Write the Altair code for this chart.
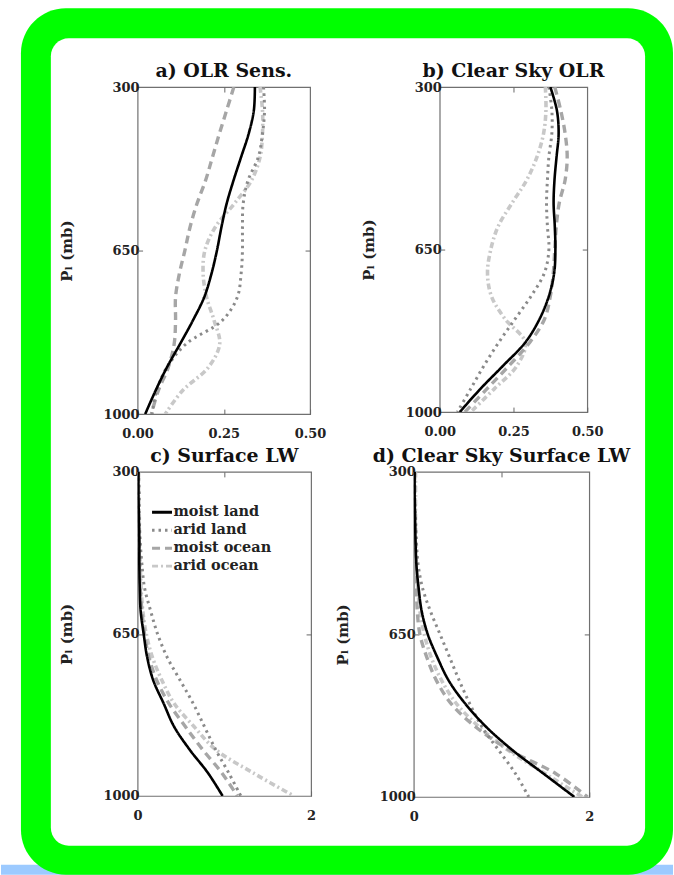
import altair as alt
import pandas as pd

# Pressure levels (mb) at which each sensitivity profile is tabulated
PRESSURE = [300, 350, 400, 450, 500, 550, 600, 650, 700, 750, 800, 850, 900, 950, 1000]
SERIES = ["moist land", "arid land", "moist ocean", "arid ocean"]

# a) OLR sensitivity
olr_moist_land = [0.340, 0.337, 0.322, 0.300, 0.278, 0.258, 0.243, 0.230, 0.214, 0.193, 0.160, 0.123, 0.085, 0.052, 0.022]
olr_arid_land = [0.365, 0.368, 0.362, 0.350, 0.320, 0.306, 0.304, 0.304, 0.300, 0.289, 0.245, 0.140, 0.085, 0.055, 0.042]
olr_moist_ocean = [0.279, 0.258, 0.237, 0.217, 0.197, 0.172, 0.152, 0.137, 0.121, 0.110, 0.110, 0.106, 0.089, 0.060, 0.040]
olr_arid_ocean = [0.355, 0.362, 0.362, 0.355, 0.330, 0.280, 0.225, 0.195, 0.190, 0.200, 0.222, 0.238, 0.205, 0.130, 0.080]

# b) clear-sky OLR sensitivity
csolr_moist_land = [0.375, 0.397, 0.403, 0.396, 0.389, 0.386, 0.390, 0.392, 0.388, 0.370, 0.338, 0.290, 0.215, 0.138, 0.068]
csolr_arid_land = [0.370, 0.380, 0.380, 0.370, 0.365, 0.362, 0.365, 0.370, 0.355, 0.310, 0.255, 0.200, 0.150, 0.105, 0.060]
csolr_moist_ocean = [0.390, 0.410, 0.425, 0.432, 0.425, 0.405, 0.395, 0.390, 0.385, 0.375, 0.355, 0.305, 0.235, 0.160, 0.085]
csolr_arid_ocean = [0.358, 0.360, 0.352, 0.330, 0.295, 0.245, 0.198, 0.173, 0.162, 0.175, 0.222, 0.290, 0.262, 0.185, 0.105]

# c) surface longwave sensitivity
slw_moist_land = [0.01, 0.01, 0.015, 0.02, 0.02, 0.025, 0.035, 0.07, 0.11, 0.18, 0.30, 0.42, 0.60, 0.81, 0.98]
slw_arid_land = [0.01, 0.02, 0.02, 0.03, 0.05, 0.08, 0.15, 0.23, 0.34, 0.49, 0.64, 0.77, 0.90, 1.05, 1.19]
slw_moist_ocean = [0.01, 0.01, 0.01, 0.015, 0.02, 0.03, 0.05, 0.08, 0.13, 0.22, 0.36, 0.55, 0.75, 0.97, 1.15]
slw_arid_ocean = [0.01, 0.01, 0.02, 0.02, 0.03, 0.04, 0.06, 0.10, 0.17, 0.28, 0.42, 0.65, 0.90, 1.33, 1.80]

# d) clear-sky surface longwave sensitivity
csslw_moist_land = [0.01, 0.01, 0.015, 0.02, 0.03, 0.055, 0.09, 0.16, 0.27, 0.40, 0.59, 0.83, 1.13, 1.48, 1.83]
csslw_arid_land = [0.01, 0.01, 0.02, 0.03, 0.05, 0.10, 0.19, 0.30, 0.41, 0.52, 0.64, 0.78, 0.97, 1.16, 1.31]
csslw_moist_ocean = [0.01, 0.01, 0.01, 0.015, 0.02, 0.03, 0.04, 0.07, 0.15, 0.26, 0.43, 0.71, 1.10, 1.62, 1.98]
csslw_arid_ocean = [0.02, 0.02, 0.02, 0.025, 0.03, 0.045, 0.07, 0.12, 0.20, 0.32, 0.49, 0.75, 1.08, 1.50, 1.92]

# Line styling per series
COLORS = ["#000000", "#8a8a8a", "#a6a6a6", "#c8c8c8"]
DASHES = [[1, 0], [2.5, 4], [8, 5], [6, 3, 2, 3]]
WIDTHS = [2.6, 3.0, 3.4, 3.6]

FONT = "DejaVu Serif"

# Frame placement (page pixels) and concat spacings
FRAME_X = 137
SPACE_TOP = 84
SPACE_ROWS = 4
SPACE_ROW1 = 34
SPACE_ROW2 = 18


def profile_panel(title, profiles, xmax, xvalues, xformat, width, height, show_legend=False):
    rows = []
    for name, values in zip(SERIES, profiles):
        for p, v in zip(PRESSURE, values):
            rows.append({"P": p, "value": v, "series": name})
    df = pd.DataFrame(rows)

    xs = alt.Scale(domain=[0, xmax], nice=False, zero=False)
    ys = alt.Scale(domain=[300, 1000], reverse=True, nice=False, zero=False)

    if show_legend:
        legend = alt.Legend(
            title=None, orient="none", legendX=13, legendY=29,
            symbolType="stroke", symbolSize=400, symbolStrokeWidth=3,
            labelFont=FONT, labelFontSize=14.5, labelFontWeight="bold",
            labelColor="#222222", labelOffset=0, rowPadding=-7, padding=0,
        )
    else:
        legend = None

    color = alt.Color("series:N", scale=alt.Scale(domain=SERIES, range=COLORS), legend=legend)
    dash = alt.StrokeDash("series:N", scale=alt.Scale(domain=SERIES, range=DASHES), legend=legend)

    x_bottom = alt.Axis(
        orient="bottom", values=xvalues, format=xformat, title=None, grid=False,
        domain=False, tickSize=5, offset=-5, labelFlush=False, labelPadding=13.5,
    )
    # labels and title on the left; the inward ticks come from the mirror layers
    y_left = alt.Axis(
        orient="left", values=[300, 650, 1000], format="d", title="Pₗ (mb)",
        grid=False, domain=False, ticks=False, offset=0, labelPadding=-1.5,
        labelAlign="right", titlePadding=28.5,
    )
    x_top = alt.Axis(
        orient="top", values=[xvalues[1]], labels=False, title=None, grid=False,
        domain=False, tickSize=5, offset=-5,
    )
    y_right = alt.Axis(
        orient="right", values=[650], labels=False, title=None, grid=False,
        domain=False, tickSize=5, offset=-5,
    )
    y_left_ticks = alt.Axis(
        orient="right", values=[650], labels=False, title=None, grid=False,
        domain=False, tickSize=5, offset=-width,
    )

    base = alt.Chart(df)
    layers = []
    # light series first so the black profile sits on top
    for i in reversed(range(len(SERIES))):
        first = i == len(SERIES) - 1
        layers.append(
            base.transform_filter(alt.datum.series == SERIES[i])
            .mark_line(strokeWidth=WIDTHS[i], interpolate="catmull-rom", clip=True)
            .encode(
                x=alt.X("value:Q", scale=xs, axis=x_bottom if first else None),
                y=alt.Y("P:Q", scale=ys, axis=y_left if first else None),
                order=alt.Order("P:Q"),
                color=color,
                strokeDash=dash,
            )
        )
    mirror = base.mark_point(opacity=0, size=1, clip=True).encode(
        x=alt.X("value:Q", scale=xs, axis=x_top),
        y=alt.Y("P:Q", scale=ys, axis=y_right),
    )
    inner_left = base.mark_point(opacity=0, size=1, clip=True).encode(
        x=alt.X("value:Q", scale=xs, axis=None),
        y=alt.Y("P:Q", scale=ys, axis=y_left_ticks),
    )
    return alt.layer(*layers, mirror, inner_left).properties(
        width=width,
        height=height,
        title=alt.TitleParams(
            title, font=FONT, fontSize=19, fontWeight="bold", color="#111111",
            offset=0, anchor="middle",
        ),
    )


panel_a = profile_panel(
    "a) OLR Sens.", [olr_moist_land, olr_arid_land, olr_moist_ocean, olr_arid_ocean],
    0.5, [0, 0.25, 0.5], ".2f", 173, 328,
)
panel_b = profile_panel(
    "b) Clear Sky OLR", [csolr_moist_land, csolr_arid_land, csolr_moist_ocean, csolr_arid_ocean],
    0.5, [0, 0.25, 0.5], ".2f", 148, 326,
)
panel_c = profile_panel(
    "c) Surface LW", [slw_moist_land, slw_arid_land, slw_moist_ocean, slw_arid_ocean],
    2, [0, 1, 2], "d", 174, 325, show_legend=True,
)
panel_d = profile_panel(
    "d) Clear Sky Surface LW", [csslw_moist_land, csslw_arid_land, csslw_moist_ocean, csslw_arid_ocean],
    2, [0, 1, 2], "d", 176, 326,
)

# Rounded green surround behind the figure
one = pd.DataFrame({"k": [0]})


def box(x0, y0, x1, y1, color, radius=0):
    return alt.Chart(one).mark_rect(color=color, cornerRadius=radius).encode(
        x=alt.value(x0 - FRAME_X), x2=alt.value(x1 - FRAME_X),
        y=alt.value(y0), y2=alt.value(y1),
    )


frame = alt.layer(
    box(0, 0, 674, 875, "#ffffff"),
    box(0, 865, 674, 875, "#9ccaff"),
    box(20, 6, 674, 875, "#00ff00", 45),
    box(50, 36, 646, 846, "#ffffff", 18),
).properties(width=1, height=1, view=alt.ViewBackground(stroke="transparent", fill="transparent"))

ind = dict(color="independent", strokeDash="independent")
row1 = alt.hconcat(panel_a, panel_b, spacing=SPACE_ROW1).resolve_scale(**ind)
row2 = alt.hconcat(panel_c, panel_d, spacing=SPACE_ROW2).resolve_scale(**ind)
grid = alt.vconcat(row1, row2, spacing=SPACE_ROWS).resolve_scale(**ind)

chart = (
    alt.vconcat(frame, grid, spacing=SPACE_TOP, bounds="flush")
    .resolve_scale(**ind)
    .properties(padding=0, background="#ffffff")
    .configure_view(stroke="#707070", strokeWidth=1.2)
    .configure_axis(
        labelFont=FONT, labelFontSize=13, labelFontWeight="bold", labelColor="#222222",
        titleFont=FONT, titleFontSize=15, titleFontWeight="bold", titleColor="#222222",
        tickColor="#666666", tickWidth=1,
    )
)

chart.save("out.html", embed_options={"renderer": "svg", "actions": False})
